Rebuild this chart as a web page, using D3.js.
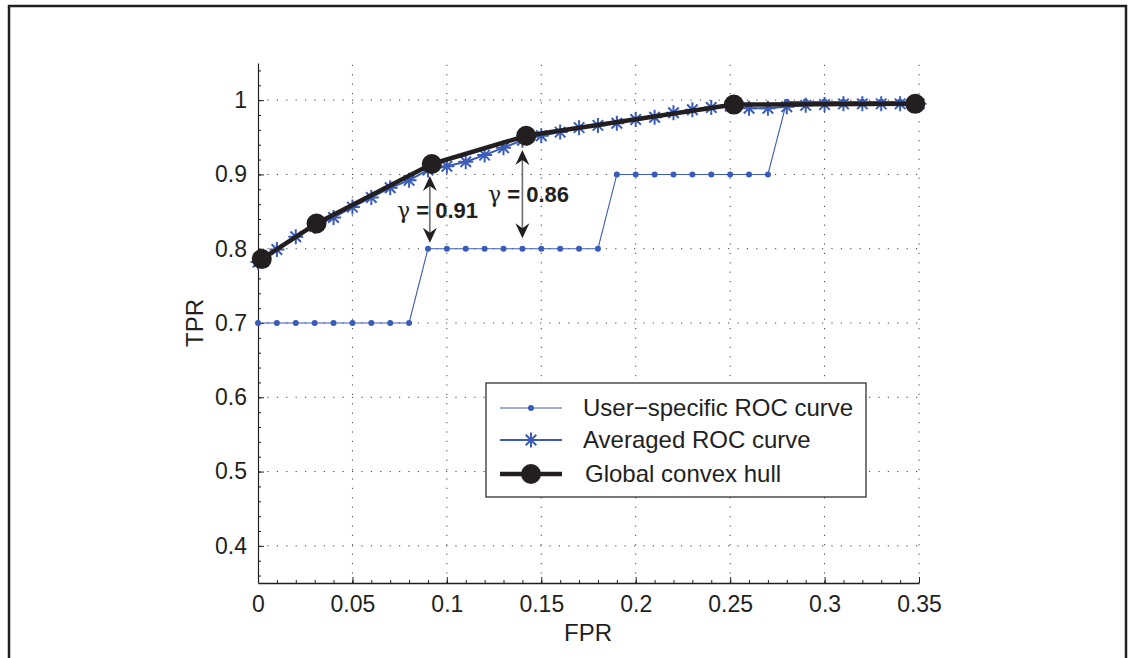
<!DOCTYPE html>
<html>
<head>
<meta charset="utf-8">
<script src="https://cdn.jsdelivr.net/npm/d3@7/dist/d3.min.js"></script>
<style>
  html, body { margin: 0; padding: 0; background: #fff; }
  svg { display: block; font-family: "Liberation Sans", Arial, Helvetica, sans-serif; }
</style>
</head>
<body>
<svg id="chart" width="1134" height="658"></svg>
<script>
// ---- data ----
const fprGrid = [0, 0.01, 0.02, 0.03, 0.04, 0.05, 0.06, 0.07, 0.08, 0.09,
                 0.10, 0.11, 0.12, 0.13, 0.14, 0.15, 0.16, 0.17, 0.18, 0.19,
                 0.20, 0.21, 0.22, 0.23, 0.24, 0.25, 0.26, 0.27, 0.28, 0.29,
                 0.30, 0.31, 0.32, 0.33, 0.34, 0.35];

const userTpr = [0.70, 0.70, 0.70, 0.70, 0.70, 0.70, 0.70, 0.70, 0.70,
                 0.80, 0.80, 0.80, 0.80, 0.80, 0.80, 0.80, 0.80, 0.80, 0.80,
                 0.90, 0.90, 0.90, 0.90, 0.90, 0.90, 0.90, 0.90, 0.90,
                 0.998, 0.998, 0.998, 0.998, 0.998, 0.998, 0.998, 0.998];

const avgTpr = [0.782, 0.799, 0.816, 0.830, 0.842, 0.856, 0.869, 0.882, 0.892, 0.906,
                0.911, 0.917, 0.926, 0.936, 0.946, 0.952, 0.957, 0.963, 0.966, 0.969,
                0.974, 0.977, 0.983, 0.987, 0.990, 0.992, 0.989, 0.989, 0.991, 0.993,
                0.994, 0.995, 0.995, 0.995, 0.995, 0.995];

const hullFpr = [0.002, 0.031, 0.092, 0.142, 0.252, 0.348];
const hullTpr = [0.786, 0.834, 0.914, 0.952, 0.994, 0.995];

const xTicks = [0, 0.05, 0.10, 0.15, 0.20, 0.25, 0.30, 0.35];
const xTickLabels = ["0", "0.05", "0.1", "0.15", "0.2", "0.25", "0.3", "0.35"];
const yTicks = [0.4, 0.5, 0.6, 0.7, 0.8, 0.9, 1.0];
const yTickLabels = ["0.4", "0.5", "0.6", "0.7", "0.8", "0.9", "1"];

// gap annotations: fpr position, upper and lower TPR of each arrow, and label
const gapFpr = [0.091, 0.140];
const gapTop = [0.898, 0.933];
const gapBottom = [0.808, 0.814];
const gapLabels = ["0.91", "0.86"];

const legendLabels = ["User\u2212specific ROC curve", "Averaged ROC curve", "Global convex hull"];

// ---- layout ----
const ink = "#231f20";
const blue = "#3a5cb8";
const svg = d3.select("#chart");

const x = d3.scaleLinear().domain([0, 0.35]).range([258, 919]);
const y = d3.scaleLinear().domain([0.35, 1.05]).range([583, 63]);

// outer figure frame (top, left, right edges)
svg.append("path")
  .attr("d", "M9,658 L9,6 L1126,6 L1126,658")
  .attr("fill", "none").attr("stroke", ink).attr("stroke-width", 2.5);

// dotted grid
const grid = svg.append("g").attr("stroke", ink).attr("stroke-width", 1)
  .attr("stroke-dasharray", "1.2,8.2").attr("opacity", 0.85);
grid.selectAll("line.v").data(xTicks.slice(1)).join("line")
  .attr("class", "v")
  .attr("x1", d => x(d)).attr("x2", d => x(d))
  .attr("y1", y(0.35)).attr("y2", y(1.05));
grid.selectAll("line.h").data(yTicks).join("line")
  .attr("class", "h")
  .attr("x1", x(0)).attr("x2", x(0.35))
  .attr("y1", d => y(d)).attr("y2", d => y(d));

// axes
const xMinor = d3.range(0, 36).map(i => i / 100);
const yMinor = d3.range(18, 53).map(i => i / 50);

svg.append("g").attr("transform", `translate(0,${y(0.35)})`)
  .call(d3.axisBottom(x).tickValues(xMinor).tickFormat("").tickSizeInner(-3).tickSizeOuter(0))
  .call(g => g.select(".domain").remove())
  .selectAll("line").attr("stroke", ink);

svg.append("g").attr("transform", `translate(${x(0)},0)`)
  .call(d3.axisLeft(y).tickValues(yMinor).tickFormat("").tickSizeInner(-3).tickSizeOuter(0))
  .call(g => g.select(".domain").remove())
  .selectAll("line").attr("stroke", ink);

const xAxis = svg.append("g").attr("transform", `translate(0,${y(0.35)})`)
  .call(d3.axisBottom(x).tickValues(xTicks)
    .tickFormat((d, i) => xTickLabels[i]).tickSizeInner(-6).tickSizeOuter(0).tickPadding(13));
xAxis.select(".domain").attr("stroke", ink).attr("stroke-width", 1.5);
xAxis.selectAll("line").attr("stroke", ink);
xAxis.selectAll("text").attr("fill", ink).attr("font-size", 23);

const yAxis = svg.append("g").attr("transform", `translate(${x(0)},0)`)
  .call(d3.axisLeft(y).tickValues(yTicks)
    .tickFormat((d, i) => yTickLabels[i]).tickSizeInner(-6).tickSizeOuter(0).tickPadding(11));
yAxis.select(".domain").attr("stroke", ink).attr("stroke-width", 1.2);
yAxis.selectAll("line").attr("stroke", ink);
yAxis.selectAll("text").attr("fill", ink).attr("font-size", 23);

// axis titles
svg.append("text").attr("x", 588).attr("y", 641)
  .attr("text-anchor", "middle").attr("font-size", 24).attr("fill", ink).text("FPR");
svg.append("text").attr("transform", `translate(203,323) rotate(-90)`)
  .attr("text-anchor", "middle").attr("font-size", 24).attr("fill", ink).text("TPR");

// ---- series ----
const line = d3.line().x(d => x(d[0])).y(d => y(d[1]));

const userPts = fprGrid.map((f, i) => [f, userTpr[i]]);
const avgPts = fprGrid.map((f, i) => [f, avgTpr[i]]);
const hullPts = hullFpr.map((f, i) => [f, hullTpr[i]]);

// user-specific curve
svg.append("path").datum(userPts).attr("d", line)
  .attr("fill", "none").attr("stroke", blue).attr("stroke-width", 1.1);
svg.append("g").selectAll("circle").data(userPts).join("circle")
  .attr("cx", d => x(d[0])).attr("cy", d => y(d[1])).attr("r", 3).attr("fill", blue);

// asterisk marker
function asterisk(g, s) {
  const a = s * 0.7;
  g.append("path")
    .attr("d", `M${-s},0L${s},0M0,${-s}L0,${s}M${-a},${-a}L${a},${a}M${-a},${a}L${a},${-a}`)
    .attr("fill", "none").attr("stroke", blue).attr("stroke-width", 2);
}

// averaged curve
svg.append("path").datum(avgPts).attr("d", line)
  .attr("fill", "none").attr("stroke", blue).attr("stroke-width", 2);
svg.append("g").selectAll("g").data(avgPts).join("g")
  .attr("transform", d => `translate(${x(d[0])},${y(d[1])})`)
  .each(function () { asterisk(d3.select(this), 7.5); });

// global convex hull
svg.append("path").datum(hullPts).attr("d", line)
  .attr("fill", "none").attr("stroke", ink).attr("stroke-width", 4.5)
  .attr("stroke-linejoin", "round");
svg.append("g").selectAll("circle").data(hullPts).join("circle")
  .attr("cx", d => x(d[0])).attr("cy", d => y(d[1])).attr("r", 10).attr("fill", ink);

// ---- gap annotations ----
function arrowHead(g, px, py, dir) {
  // dir = -1 points up, +1 points down
  const L = 15, W = 7, N = 10;
  g.append("path")
    .attr("d", `M${px},${py}L${px - W},${py - dir * L}L${px},${py - dir * N}L${px + W},${py - dir * L}Z`)
    .attr("fill", ink);
}
gapFpr.forEach((f, i) => {
  const g = svg.append("g");
  const px = x(f), yt = y(gapTop[i]), yb = y(gapBottom[i]);
  g.append("line").attr("x1", px).attr("x2", px).attr("y1", yt + 8).attr("y2", yb - 8)
    .attr("stroke", "#6d6e71").attr("stroke-width", 1.6);
  arrowHead(g, px, yt, -1);
  arrowHead(g, px, yb, 1);
});

const gapText = [[397, 218], [488, 202]];
gapLabels.forEach((lab, i) => {
  const t = svg.append("text").attr("x", gapText[i][0]).attr("y", gapText[i][1])
    .attr("font-size", 22).attr("fill", ink);
  t.append("tspan").attr("font-family", "'DejaVu Serif', serif").attr("font-size", 22).text("\u03b3");
  t.append("tspan").attr("font-weight", "bold").text(" = " + lab);
});

// ---- legend ----
const lg = svg.append("g");
lg.append("rect").attr("x", 486).attr("y", 383).attr("width", 380).attr("height", 114)
  .attr("fill", "#fff").attr("stroke", ink).attr("stroke-width", 1.2);
const rowY = [408, 440, 474];
legendLabels.forEach((lab, i) => {
  const ry = rowY[i];
  const sw = lg.append("g");
  if (i === 0) {
    sw.append("line").attr("x1", 500).attr("x2", 562).attr("y1", ry).attr("y2", ry)
      .attr("stroke", blue).attr("stroke-width", 1.1);
    sw.append("circle").attr("cx", 531).attr("cy", ry).attr("r", 3).attr("fill", blue);
  } else if (i === 1) {
    sw.append("line").attr("x1", 500).attr("x2", 562).attr("y1", ry).attr("y2", ry)
      .attr("stroke", blue).attr("stroke-width", 2);
    const a = sw.append("g").attr("transform", `translate(531,${ry})`);
    asterisk(a, 7.5);
  } else {
    sw.append("line").attr("x1", 500).attr("x2", 562).attr("y1", ry).attr("y2", ry)
      .attr("stroke", ink).attr("stroke-width", 4.5);
    sw.append("circle").attr("cx", 531).attr("cy", ry).attr("r", 10).attr("fill", ink);
  }
  lg.append("text").attr("x", i === 2 ? 585 : 583).attr("y", ry + 8)
    .attr("font-size", 24).attr("fill", ink).text(lab);
});
</script>
</body>
</html>
